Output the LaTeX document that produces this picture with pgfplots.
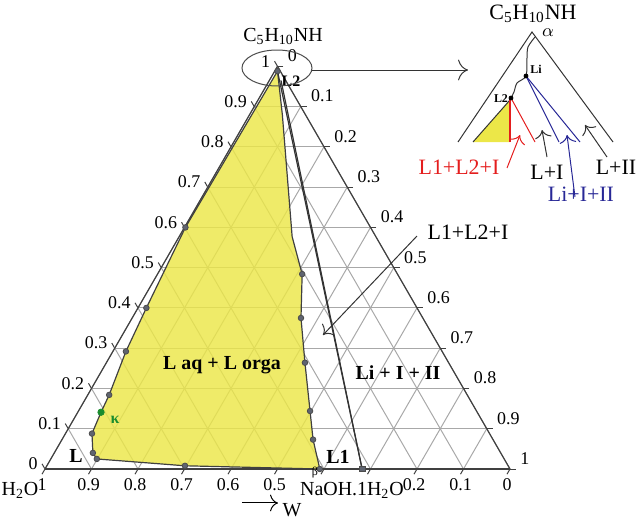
\documentclass[border=0pt]{standalone}
\usepackage{fontspec}
\setmainfont{Liberation Serif}
\usepackage{pgfplots}
\pgfplotsset{compat=1.18}
\usepgfplotslibrary{ternary}
\usetikzlibrary{arrows.meta}
\definecolor{phasefill}{RGB}{236,231,72}
\definecolor{ptgray}{RGB}{95,100,112}
\definecolor{gridgray}{RGB}{168,168,168}
\definecolor{kgreen}{RGB}{25,140,45}
\definecolor{insetred}{RGB}{228,30,30}
\definecolor{insetblue}{RGB}{40,40,150}

\begin{document}
\begin{tikzpicture}[font=\fontsize{9}{10}\selectfont]
\useasboundingbox (0,0) rectangle (320bp,-262.5bp);

% main ternary diagram: x = C5H10NH (top), y = H2O (W, bottom left), z = NaOH (bottom right)
\begin{ternaryaxis}[
  at={(22.5bp,-234.5bp)}, anchor=south west,
  scale only axis, width=232.5bp, height=198.5bp,
  xmin=0,xmax=1,ymin=0,ymax=1,zmin=0,zmax=1,
  xtick={0,0.1,...,1}, ytick={0,0.1,...,1}, ztick={0,0.1,...,1},
  % right side: NaOH fraction, left side: C5H10NH fraction, bottom: W
  xticklabels={1,0.9,0.8,0.7,0.6,0.5,0.4,0.3,0.2,0.1,0},
  yticklabels={1,0.9,0.8,0.7,0.6,0.5,0.4,0.3,0.2,0.1,0},
  zticklabels={1,0.9,0.8,0.7,0.6,0.5,,,0.2,0.1,0},
  ticklabel style={font=\fontsize{9}{10}\selectfont},
  xticklabel style={anchor=south west, inner sep=2pt},
  yticklabel style={anchor=east, inner sep=2pt},
  zticklabel style={anchor=north, inner sep=2pt},
  tick align=outside, major tick length=3pt,
  tick style={black!75, line width=0.5pt},
  grid=major,
  major grid style={gridgray, line width=0.5pt},
  axis line style={black!75, line width=0.6pt},
  clip=false,
]
% two-phase region L aq + L orga
\addplot3[draw=black!75, line width=0.6pt, fill=phasefill, fill opacity=0.82] coordinates {
 (0.988,0.006,0.006) (0.600,0.398,0.002) (0.400,0.582,0.018) (0.292,0.680,0.028)
 (0.184,0.770,0.046) (0.141,0.809,0.050) (0.088,0.855,0.057) (0.040,0.877,0.083)
 (0.025,0.876,0.099) (0.008,0.695,0.297) (0.000,0.409,0.591) (0.073,0.387,0.540)
 (0.144,0.358,0.498) (0.264,0.309,0.427) (0.375,0.262,0.363) (0.484,0.205,0.311)
 (0.577,0.180,0.243) (0.879,0.050,0.071) (0.988,0.006,0.006)
};
% tie lines to NaOH.1H2O
\addplot3[black!80, line width=0.6pt] coordinates {(0.988,0.006,0.006) (0,0.318,0.682)};
\addplot3[black!80, line width=0.6pt] coordinates {(0.965,0.010,0.025) (0,0.318,0.682)};
% measured points
\addplot3[only marks, mark=*, mark size=1.4pt, mark options={fill=ptgray, draw=black!70}] coordinates {
 (0.988,0.006,0.006) (0.600,0.398,0.002) (0.400,0.582,0.018) (0.292,0.680,0.028)
 (0.184,0.770,0.046) (0.088,0.855,0.057) (0.040,0.877,0.083) (0.025,0.876,0.099)
 (0.008,0.695,0.297) (0.000,0.409,0.591) (0.073,0.387,0.540) (0.144,0.358,0.498)
 (0.264,0.309,0.427) (0.375,0.262,0.363) (0.484,0.205,0.311)
};
\addplot3[only marks, mark=square*, mark size=1.4pt, mark options={fill=ptgray, draw=black!70}] coordinates {(0,0.318,0.682)};
\addplot3[only marks, mark=*, mark size=1.6pt, color=kgreen] coordinates {(0.141,0.809,0.050)};
\end{ternaryaxis}

% enlarged schematic of the top corner
\begin{axis}[
  at={(220bp,0bp)}, anchor=north west,
  scale only axis, width=100bp, height=105bp,
  xmin=440, xmax=640, ymin=0, ymax=210, y dir=reverse,
  axis lines=none, clip=false,
]
\addplot[fill=phasefill, draw=none] coordinates {(473,142) (510,142) (510,100) (473,142)};
\addplot[black!80, line width=0.5pt] coordinates {(473,142) (510,100)};
\addplot[black!80, line width=0.5pt] coordinates {(458,142) (532,32) (613,142)};
\addplot[black!80, line width=0.5pt, smooth] coordinates {(535,37) (528,47) (527,58) (526,76) (517,83) (514,92) (511,98)};
\addplot[insetred, line width=0.6pt] coordinates {(510,98) (510,142)};
\addplot[insetred, line width=0.5pt] coordinates {(511,98) (535,142)};
\addplot[insetblue, line width=0.5pt] coordinates {(526,76) (559,142)};
\addplot[insetblue, line width=0.5pt] coordinates {(526,76) (580,142)};
\addplot[only marks, mark=*, mark size=1pt, black] coordinates {(526,76) (511,98)};
\addplot[insetred, line width=0.5pt, -{To[length=4pt]}] coordinates {(507,168) (520,135)};
\addplot[black!80, line width=0.5pt, -{To[length=4pt]}] coordinates {(547,157) (542,130)};
\addplot[insetblue, line width=0.5pt, -{To[length=4pt]}] coordinates {(575,197) (567,135)};
\addplot[black!80, line width=0.5pt, -{To[length=4pt]}] coordinates {(607,157) (585,125)};
\end{axis}

\begin{scope}[x=0.5bp, y=-0.5bp]
% labels of the main diagram
\node at (283,36) {\fontsize{10}{11}\selectfont C\textsubscript{5}H\textsubscript{10}NH};
\node at (291,81) {\fontsize{8}{9}\selectfont\bfseries L2};
\draw[black!70, line width=0.5pt] (277,68) ellipse [x radius=17.5bp, y radius=9bp];
\draw[black!80, line width=0.5pt, -{To[length=5pt]}] (312,70) -- (468,70);
\node at (222,365) {\fontsize{10}{11}\selectfont\bfseries L aq + L orga};
\node at (398,373) {\fontsize{10}{11}\selectfont\bfseries Li + I + II};
\node at (76,456) {\fontsize{10}{11}\selectfont\bfseries L};
\node at (338,457) {\fontsize{10}{11}\selectfont\bfseries L1};
\node at (315,473) {\fontsize{6}{7}\selectfont β};
\node[text=kgreen] at (115,420) {\fontsize{8}{9}\selectfont\bfseries κ};
\node at (468,232) {\fontsize{11}{12}\selectfont L1+L2+I};
\draw[black!80, line width=0.5pt, -{To[length=4pt]}] (417,236) -- (323,335);
\node at (20,490) {\fontsize{10}{11}\selectfont H\textsubscript{2}O};
\node at (352,490) {\fontsize{10}{11}\selectfont NaOH.1H\textsubscript{2}O};
\draw[black, line width=0.5pt, -{To[length=4pt]}] (242,503) -- (278,503);
\node at (292,510) {\fontsize{10}{11}\selectfont W};
% labels of the enlarged corner
\node at (533,14) {\fontsize{11}{12}\selectfont C\textsubscript{5}H\textsubscript{10}NH};
\node at (548,33) {\fontsize{9}{10}\selectfont $\alpha$};
\node at (536,69) {\fontsize{6}{7}\selectfont\bfseries Li};
\node at (501,99) {\fontsize{6}{7}\selectfont\bfseries L2};
\node[text=insetred] at (459,167) {\fontsize{11}{12}\selectfont L1+L2+I};
\node at (547,172) {\fontsize{11}{12}\selectfont L+I};
\node[text=insetblue] at (581,194) {\fontsize{11}{12}\selectfont Li+I+II};
\node at (616,167) {\fontsize{11}{12}\selectfont L+II};
\end{scope}
\end{tikzpicture}
\end{document}
